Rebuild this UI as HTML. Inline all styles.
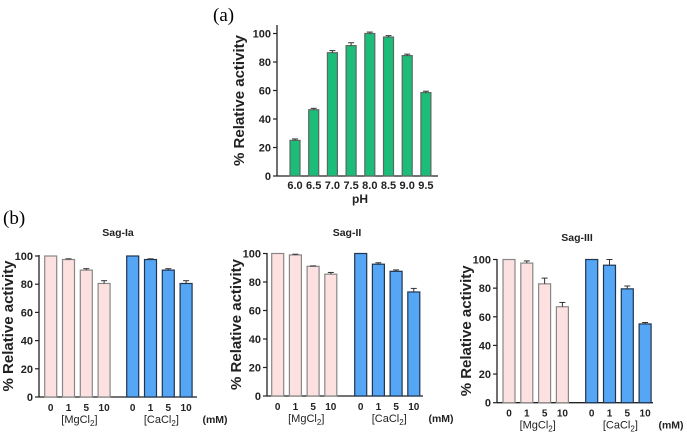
<!DOCTYPE html>
<html><head><meta charset="utf-8"><style>
body{margin:0;background:#fff;width:687px;height:434px;overflow:hidden}
svg text{font-family:"Liberation Sans",Arial,sans-serif}
</style></head><body>
<svg id="fig" width="687" height="434" viewBox="0 0 687 434" xmlns="http://www.w3.org/2000/svg">
<text x="213" y="21" style="font-family:'Liberation Serif',serif" font-size="19">(a)</text>
<text x="3" y="224" style="font-family:'Liberation Serif',serif" font-size="19">(b)</text>
</svg>
<script>
const phCats=["6.0","6.5","7.0","7.5","8.0","8.5","9.0","9.5"];
const phVals=[25,46.5,86.5,91.5,100,97.5,84.5,58.5];
const phErr=[1,1,1.5,2,1,1,1,1];
const conc=["0","1","5","10"];
const sag1Mg=[100,97.5,90,80.5];const sag1MgErr=[0,0.5,1,2];
const sag1Ca=[100,97.5,90,80.5];const sag1CaErr=[0,0.5,1,2];
const sag2Mg=[100,99,91,85.5];const sag2MgErr=[0,0.5,0.3,1.2];
const sag2Ca=[100,92.5,87.5,73];const sag2CaErr=[0,1,1,2.5];
const sag3Mg=[100,97.5,83,67];const sag3MgErr=[0,1.5,4,3];
const sag3Ca=[100,96,79.5,55];const sag3CaErr=[0,4,2,1];
const yTicks=[0,20,40,60,80,100];

const svg=document.getElementById('fig');
const NS='http://www.w3.org/2000/svg';
function mk(tag,attrs,name,txt){const e=document.createElementNS(NS,tag);for(const k in attrs)e.setAttribute(k,attrs[k]);


if(txt!==undefined)e.textContent=txt;svg.appendChild(e);return e;}

function axes(p){
  const y=v=>p.y0+(p.y100-p.y0)*v/100;
  mk('line',{x1:p.ax,x2:p.ax,y1:p.top,y2:p.y0,stroke:'#222','stroke-width':1.3},'y-axis');
  mk('line',{x1:p.ax,x2:p.xend,y1:p.y0,y2:p.y0,stroke:'#222','stroke-width':1.3},'x-axis');
  yTicks.forEach(t=>{mk('line',{x1:p.ax-4,x2:p.ax,y1:y(t),y2:y(t),stroke:'#222','stroke-width':1.2},'y-tick');
    mk('text',{x:p.ax-6,y:y(t)+4,'text-anchor':'end','font-size':p.fs,'font-weight':'bold',fill:'#222'},'y-tick-label',t);});
  mk('text',{x:p.ytx,y:(p.y0+p.top)/2,'text-anchor':'middle','font-size':p.yfs,'font-weight':'bold',fill:'#222',transform:`rotate(-90 ${p.ytx} ${(p.y0+p.top)/2})`},'y-axis-title','% Relative activity');
  return y;
}
function bars(y,p,xs,vals,errs,fill,stroke,name){
  vals.forEach((v,i)=>{const cx=xs[i];
    mk('rect',{x:cx-p.bw/2,y:y(v),width:p.bw,height:p.y0-y(v),fill:fill,stroke:stroke,'stroke-width':1.2},name);
    const e=errs[i];if(e>0){mk('line',{x1:cx,x2:cx,y1:y(v+e),y2:y(v),stroke:'#333','stroke-width':1},'error-bar');
      mk('line',{x1:cx-3,x2:cx+3,y1:y(v+e),y2:y(v+e),stroke:'#333','stroke-width':1},'error-cap');}});
}
{const p={ax:277,xend:438,top:25,y0:176,y100:33.5,fs:11,yfs:15,ytx:244,bw:10};
 const y=axes(p);const x0=295,dx=18.7;const xs=phCats.map((c,i)=>x0+i*dx);
 bars(y,p,xs,phVals,phErr,'#1cbd78','#5a6a62','bar-ph');
 phCats.forEach((c,i)=>mk('text',{x:xs[i],y:189,'text-anchor':'middle','font-size':11,'font-weight':'bold',fill:'#222'},'x-tick-label',c));
 mk('text',{x:360,y:203,'text-anchor':'middle','font-size':12,'font-weight':'bold',fill:'#222'},'x-axis-title','pH');}
function panelB(p,title,mg,mgE,ca,caE){
  const y=axes(p);
  const mgx=conc.map((c,i)=>p.mg0+i*p.dx), cax=conc.map((c,i)=>p.ca0+i*p.dx);
  bars(y,p,mgx,mg,mgE,'#fde0e0','#888','bar-mgcl2');
  bars(y,p,cax,ca,caE,'#55a6f5','#1f3550','bar-cacl2');
  conc.forEach((c,i)=>{mk('text',{x:mgx[i],y:p.y0+14,'text-anchor':'middle','font-size':10,'font-weight':'bold',fill:'#222'},'x-tick-label',c);
    mk('text',{x:cax[i],y:p.y0+14,'text-anchor':'middle','font-size':10,'font-weight':'bold',fill:'#222'},'x-tick-label',c);});
  const gy=p.y0+26;
  const a=mk('text',{x:(mgx[0]+mgx[3])/2+2,y:gy,'text-anchor':'middle','font-size':11,fill:'#222'},'mgcl2-group-label');a.innerHTML='[MgCl<tspan font-size="8" dy="3">2</tspan><tspan dy="-3">]</tspan>';
  const b=mk('text',{x:(cax[0]+cax[3])/2+2,y:gy,'text-anchor':'middle','font-size':11,fill:'#222'},'cacl2-group-label');b.innerHTML='[CaCl<tspan font-size="8" dy="3">2</tspan><tspan dy="-3">]</tspan>';
  mk('text',{x:p.xend+18,y:gy,'text-anchor':'middle','font-size':10.5,'font-weight':'bold',fill:'#222'},'unit-label','(mM)');
  mk('text',{x:p.tx,y:p.ty,'text-anchor':'middle','font-size':10.5,'font-weight':'bold',fill:'#222'},'chart-title',title);
}
panelB({ax:39,xend:197,top:255,y0:397,y100:256,fs:11,yfs:15,ytx:13,bw:12,mg0:50.7,ca0:132.7,dx:17.8,tx:118,ty:236},'Sag-Ia',sag1Mg,sag1MgErr,sag1Ca,sag1CaErr);
panelB({ax:267,xend:423,top:253,y0:396,y100:253.5,fs:11,yfs:15,ytx:241,bw:12,mg0:277.7,ca0:360.7,dx:17.7,tx:347,ty:236},'Sag-II',sag2Mg,sag2MgErr,sag2Ca,sag2CaErr);
panelB({ax:497,xend:653,top:259,y0:402.7,y100:259.5,fs:11,yfs:15,ytx:471,bw:12,mg0:509,ca0:591.7,dx:17.8,tx:577,ty:241},'Sag-III',sag3Mg,sag3MgErr,sag3Ca,sag3CaErr);
</script>
</body></html>
